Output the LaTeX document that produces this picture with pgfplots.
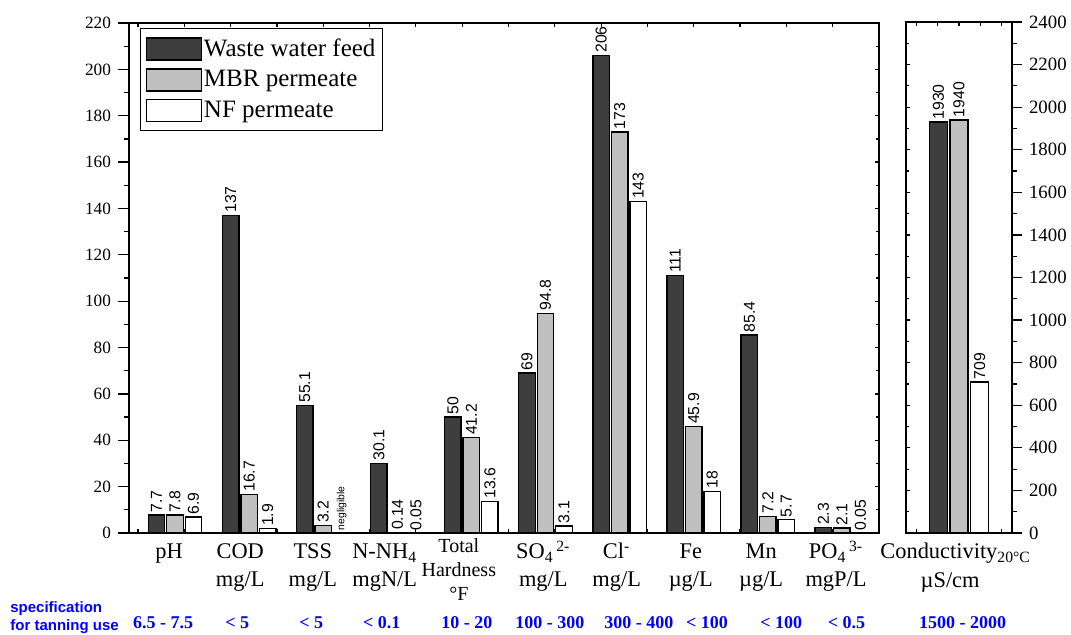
\documentclass[border=0pt]{standalone}
\usepackage{fontspec}
\setmainfont{Liberation Serif}
\setsansfont{Liberation Sans}
\usepackage{graphicx}
\usepackage{pgfplots}
\pgfplotsset{compat=1.18}
\definecolor{feed}{RGB}{62,62,62}
\definecolor{mbr}{RGB}{192,192,192}
\definecolor{specblue}{RGB}{0,0,255}
\protected\def\negl{{\fontsize{5.2}{6}\selectfont negligible}}

\pgfplotsset{
  barstyle/.style={
    point meta=explicit symbolic,
    nodes near coords={\rotatebox{90}{\pgfplotspointmeta}},
    every node near coord/.append style={inner sep=1pt,
      font=\sffamily\fontsize{7.9}{8.5}\selectfont},
    every axis plot/.append style={draw=black, line width=0.7pt},
    axis line style={line width=0.9pt},
    tick style={black, line width=0.6pt},
  },
}

\begin{document}
\begin{tikzpicture}
\path[use as bounding box] (-64.5pt,-50.5pt) rectangle (471pt,266.5pt);

% main panel, bars
\begin{axis}[
  barstyle,
  at={(0pt,0pt)}, anchor=south west,
  scale only axis, width=375pt, height=255pt,
  xmin=-0.621, xmax=9.5, ymin=0, ymax=220,
  ybar=1pt, bar width=8.25pt,
  tick align=inside,
  xtick={-0.5,0.125,0.75,1.375,2,2.625,3.25,3.875,4.5,5.125,5.75,6.375,7,7.625,8.25,8.875},
  xticklabels={}, xtick pos=both,
  ytick={0,20,...,220}, minor y tick num=1, ytick pos=right, yticklabels={},
  major tick length=1.8pt, minor tick length=1.5pt,
  clip=false,
  legend style={at={(axis description cs:0,1)}, anchor=north west,
    xshift=5.5pt, yshift=-2.5pt, draw=black, line width=0.6pt,
    font=\fontsize{12.5}{14}\selectfont,
    inner xsep=2.5pt, inner ysep=4pt, row sep=3.6pt, cells={anchor=west},
    nodes={inner xsep=1pt, inner ysep=1pt}},
  legend image code/.code={\draw[#1] (0pt,-5.5pt) rectangle (27.5pt,5.5pt);},
]
\addplot[fill=feed] coordinates {(0,7.7)[7.7] (1,137)[137] (2,55.1)[55.1] (3,30.1)[30.1]
  (4,50)[50] (5,69)[69] (6,206)[206] (7,111)[111] (8,85.4)[85.4] (9,2.3)[2.3]};
\addplot[fill=mbr] coordinates {(0,7.8)[7.8] (1,16.7)[16.7] (2,3.2)[3.2] (3,0.14)[0.14]
  (4,41.2)[41.2] (5,94.8)[94.8] (6,173)[173] (7,45.9)[45.9] (8,7.2)[7.2] (9,2.1)[2.1]};
\addplot[fill=white] coordinates {(0,6.9)[6.9] (1,1.9)[1.9] (2,0)[\negl] (3,0.05)[0.05]
  (4,13.6)[13.6] (5,3.1)[3.1] (6,143)[143] (7,18)[18] (8,5.7)[5.7] (9,0.05)[0.05]};
\legend{Waste water feed, MBR permeate, NF permeate}

% category labels
\begin{scope}[every node/.style={anchor=base, inner sep=0pt, font=\fontsize{11.2}{14}\selectfont}]
\node at (axis cs:-0.08,-11.2) {pH};
\node at (axis cs:0.88,-11.2) {\begin{tabular}[t]{@{}c@{}}COD\\mg/L\end{tabular}};
\node at (axis cs:1.86,-11.2) {\begin{tabular}[t]{@{}c@{}}TSS\\mg/L\end{tabular}};
\node at (axis cs:2.83,-11.2) {\begin{tabular}[t]{@{}c@{}}N-NH\textsubscript{4}\\mgN/L\end{tabular}};
\node[font=\fontsize{10}{12}\selectfont] at (axis cs:3.83,-8.6) {\begin{tabular}[t]{@{}c@{}}Total\\Hardness\\°F\end{tabular}};
\node at (axis cs:4.97,-11.2) {\begin{tabular}[t]{@{}c@{}}SO\textsubscript{4}\textsuperscript{\,2-}\\mg/L\end{tabular}};
\node at (axis cs:5.96,-11.2) {\begin{tabular}[t]{@{}c@{}}Cl\textsuperscript{-}\\mg/L\end{tabular}};
\node at (axis cs:6.96,-11.2) {\begin{tabular}[t]{@{}c@{}}Fe\\µg/L\end{tabular}};
\node at (axis cs:7.91,-11.2) {\begin{tabular}[t]{@{}c@{}}Mn\\µg/L\end{tabular}};
\node at (axis cs:8.92,-11.2) {\begin{tabular}[t]{@{}c@{}}PO\textsubscript{4}\textsuperscript{\,3-}\\mgP/L\end{tabular}};
\node[anchor=base west] at (axis cs:9.514,-11.2) {Conductivity\textsubscript{20°C}};
\node at (axis cs:10.46,-23.3) {µS/cm};
\end{scope}

% specification row
\node[anchor=base west, inner sep=0pt, text=specblue, font=\sffamily\bfseries\fontsize{7.5}{9}\selectfont]
  at (axis cs:-2.227,-34.5) {\begin{tabular}[t]{@{}l@{}}specification\\for tanning use\end{tabular}};
\begin{scope}[every node/.style={anchor=base, inner sep=0pt, text=specblue, font=\bfseries\fontsize{9}{10}\selectfont}]
\node at (axis cs:-0.16,-41) {6.5 - 7.5};
\node at (axis cs:0.84,-41) {< 5};
\node at (axis cs:1.84,-41) {< 5};
\node at (axis cs:2.79,-41) {< 0.1};
\node at (axis cs:3.94,-41) {10 - 20};
\node at (axis cs:5.06,-41) {100 - 300};
\node at (axis cs:6.26,-41) {300 - 400};
\node at (axis cs:7.18,-41) {< 100};
\node at (axis cs:8.18,-41) {< 100};
\node at (axis cs:9.06,-41) {< 0.5};
\node at (axis cs:10.63,-41) {1500 - 2000};
\end{scope}
\end{axis}

% main panel, left scale
\begin{axis}[
  at={(0pt,0pt)}, anchor=south west,
  scale only axis, width=375pt, height=255pt,
  xmin=-0.621, xmax=9.5, ymin=0, ymax=220,
  hide x axis,
  axis line style={line width=0.9pt},
  tick style={black, line width=0.6pt},
  tick align=outside, ytick pos=left,
  ytick={0,20,...,220}, minor y tick num=1,
  major tick length=5.5pt, minor tick length=2.5pt,
  yticklabel style={font=\fontsize{8.6}{9}\selectfont},
  /pgf/number format/assume math mode=true,
]
\end{axis}

% conductivity panel, bars
\begin{axis}[
  barstyle,
  at={(388.5pt,0pt)}, anchor=south west,
  scale only axis, width=53pt, height=255.5pt,
  xmin=-1, xmax=1, ymin=0, ymax=2400,
  ybar=1.3pt, bar width=9pt,
  tick align=inside,
  xtick={-0.8,-0.4,0,0.4,0.8}, xticklabels={}, xtick pos=both,
  ytick={0,200,...,2400}, minor y tick num=1, ytick pos=left, yticklabels={},
  major tick length=1.8pt, minor tick length=1.5pt,
  clip=false,
]
\addplot[fill=feed] coordinates {(0,1930)[1930]};
\addplot[fill=mbr] coordinates {(0,1940)[1940]};
\addplot[fill=white] coordinates {(0,709)[709]};
\end{axis}

% conductivity panel, right scale
\begin{axis}[
  at={(388.5pt,0pt)}, anchor=south west,
  scale only axis, width=53pt, height=255.5pt,
  xmin=-1, xmax=1, ymin=0, ymax=2400,
  hide x axis,
  axis line style={line width=0.9pt},
  tick style={black, line width=0.6pt},
  tick align=outside, ytick pos=right, yticklabel pos=right,
  ytick={0,200,...,2400}, minor y tick num=1,
  major tick length=5pt, minor tick length=2.5pt,
  yticklabel style={font=\fontsize{9.4}{10}\selectfont},
  /pgf/number format/assume math mode=true,
  /pgf/number format/1000 sep={},
]
\end{axis}
\end{tikzpicture}
\end{document}
